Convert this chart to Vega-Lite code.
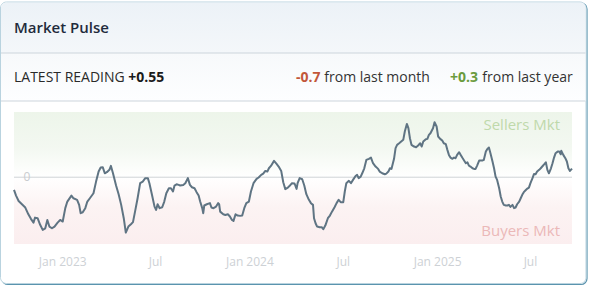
{
  "$schema": "https://vega.github.io/schema/vega-lite/v6.json",
  "width": 558,
  "height": 132,
  "autosize": {"type": "none"},
  "padding": {"left": 14, "top": 112, "right": 19, "bottom": 46},
  "background": "#ffffff",
  "config": {
    "view": {"stroke": null},
    "font": "Open Sans",
    "text": {"font": "Open Sans"}
  },
  "layer": [
    {
      "data": {"values": [{}]},
      "mark": {"type": "rect", "fill": "#ffffff", "stroke": "#5b94ae", "strokeWidth": 1.2, "cornerRadius": 6},
      "encoding": {"x": {"value": -12}, "x2": {"value": 573}, "y": {"value": -109}, "y2": {"value": 172.5}}
    },
    {
      "data": {"values": [{}]},
      "mark": {"type": "rect", "fill": "#ffffff", "stroke": "#b9d3df", "strokeWidth": 1, "cornerRadius": 6},
      "encoding": {"x": {"value": -13.5}, "x2": {"value": 572}, "y": {"value": -110}, "y2": {"value": 171.5}}
    },
    {
      "data": {"values": [{}]},
      "mark": {
        "type": "rect",
        "cornerRadiusTopLeft": 5,
        "cornerRadiusTopRight": 5,
        "fill": {"gradient": "linear", "x1": 0, "y1": 0, "x2": 0, "y2": 1, "stops": [{"offset": 0, "color": "#ecf2f7"}, {"offset": 1, "color": "#f4f7fa"}]}
      },
      "encoding": {"x": {"value": -13}, "x2": {"value": 571.5}, "y": {"value": -109.3}, "y2": {"value": -59}}
    },
    {
      "data": {"values": [{}]},
      "mark": {
        "type": "rect",
        "fill": {"gradient": "linear", "x1": 0, "y1": 0, "x2": 0, "y2": 1, "stops": [{"offset": 0, "color": "#f7f9fb"}, {"offset": 1, "color": "#fdfeff"}]}
      },
      "encoding": {"x": {"value": -13}, "x2": {"value": 571.5}, "y": {"value": -59}, "y2": {"value": -11}}
    },
    {
      "data": {"values": [{}]},
      "mark": {"type": "rule", "stroke": "#cdd5dc", "strokeWidth": 1},
      "encoding": {"x": {"value": -13}, "x2": {"value": 571.5}, "y": {"value": -59}}
    },
    {
      "data": {"values": [{}]},
      "mark": {"type": "rule", "stroke": "#cdd5dc", "strokeWidth": 1},
      "encoding": {"x": {"value": -13}, "x2": {"value": 571.5}, "y": {"value": -11}}
    },
    {
      "data": {"values": [{}]},
      "mark": {"type": "text", "text": "Market Pulse", "align": "left", "baseline": "alphabetic", "fontSize": 15, "fontWeight": 600, "color": "#1f2b3c"},
      "encoding": {"x": {"value": 0}, "y": {"value": -79}}
    },
    {
      "data": {"values": [{}]},
      "mark": {"type": "text", "text": "LATEST READING", "align": "left", "baseline": "alphabetic", "fontSize": 14, "color": "#2a2a2a"},
      "encoding": {"x": {"value": 0}, "y": {"value": -30}}
    },
    {
      "data": {"values": [{}]},
      "mark": {"type": "text", "text": "+0.55", "align": "left", "baseline": "alphabetic", "fontSize": 14, "fontWeight": "bold", "color": "#1a1a1a"},
      "encoding": {"x": {"value": 114.3}, "y": {"value": -30}}
    },
    {
      "data": {"values": [{}]},
      "mark": {"type": "text", "text": "-0.7", "align": "left", "baseline": "alphabetic", "fontSize": 14, "fontWeight": "bold", "color": "#c2573a"},
      "encoding": {"x": {"value": 282}, "y": {"value": -30}}
    },
    {
      "data": {"values": [{}]},
      "mark": {"type": "text", "text": "from last month", "align": "left", "baseline": "alphabetic", "fontSize": 14, "color": "#333333"},
      "encoding": {"x": {"value": 310.3}, "y": {"value": -30}}
    },
    {
      "data": {"values": [{}]},
      "mark": {"type": "text", "text": "+0.3", "align": "left", "baseline": "alphabetic", "fontSize": 14, "fontWeight": "bold", "color": "#6b9b3e"},
      "encoding": {"x": {"value": 436}, "y": {"value": -30}}
    },
    {
      "data": {"values": [{}]},
      "mark": {"type": "text", "text": "from last year", "align": "left", "baseline": "alphabetic", "fontSize": 14, "color": "#333333"},
      "encoding": {"x": {"value": 468.3}, "y": {"value": -30}}
    },
    {
      "data": {"values": [{}]},
      "mark": {
        "type": "rect",
        "fill": {"gradient": "linear", "x1": 0, "y1": 0, "x2": 0, "y2": 1, "stops": [{"offset": 0, "color": "#edf5ea"}, {"offset": 0.55, "color": "#f3f8f1"}, {"offset": 1, "color": "#ffffff"}]}
      },
      "encoding": {
        "x": {"value": 0}, "x2": {"value": 558},
        "y": {"datum": 4.15, "type": "quantitative", "scale": {"domain": [-4.25, 4.15], "nice": false, "zero": false}, "axis": null},
        "y2": {"datum": 0}
      }
    },
    {
      "data": {"values": [{}]},
      "mark": {
        "type": "rect",
        "fill": {"gradient": "linear", "x1": 0, "y1": 0, "x2": 0, "y2": 1, "stops": [{"offset": 0, "color": "#ffffff"}, {"offset": 0.45, "color": "#fcf3f3"}, {"offset": 1, "color": "#fbeeef"}]}
      },
      "encoding": {
        "x": {"value": 0}, "x2": {"value": 558},
        "y": {"datum": 0, "type": "quantitative"},
        "y2": {"datum": -4.25}
      }
    },
    {
      "data": {"values": [{}]},
      "mark": {"type": "rule", "stroke": "#cfd3d6", "strokeWidth": 1},
      "encoding": {"x": {"value": 0}, "x2": {"value": 558}, "y": {"datum": 0, "type": "quantitative"}}
    },
    {
      "data": {"values": [{}]},
      "mark": {"type": "text", "text": "0", "align": "center", "baseline": "middle", "fontSize": 12, "color": "#c9cccf"},
      "encoding": {"x": {"value": 13}, "y": {"datum": 0, "type": "quantitative"}}
    },
    {
      "data": {"values": [{}]},
      "mark": {"type": "text", "text": "Sellers Mkt", "align": "right", "baseline": "middle", "fontSize": 15, "color": "#bfd9ab"},
      "encoding": {"x": {"value": 546}, "y": {"datum": 3.32, "type": "quantitative"}}
    },
    {
      "data": {"values": [{}]},
      "mark": {"type": "text", "text": "Buyers Mkt", "align": "right", "baseline": "middle", "fontSize": 15, "color": "#ebb8b8"},
      "encoding": {"x": {"value": 546}, "y": {"datum": -3.4, "type": "quantitative"}}
    },
    {
      "data": {"values": [
        {"d": "2022-09-29", "v": -0.81}, {"d": "2022-10-03", "v": -1.17}, {"d": "2022-10-08", "v": -1.51}, {"d": "2022-10-14", "v": -1.70},
        {"d": "2022-10-21", "v": -1.93}, {"d": "2022-10-27", "v": -2.36}, {"d": "2022-11-01", "v": -2.65}, {"d": "2022-11-06", "v": -2.89},
        {"d": "2022-11-09", "v": -2.57}, {"d": "2022-11-14", "v": -2.61}, {"d": "2022-11-19", "v": -3.03}, {"d": "2022-11-24", "v": -3.35},
        {"d": "2022-11-29", "v": -3.25}, {"d": "2022-12-03", "v": -2.72}, {"d": "2022-12-07", "v": -3.14}, {"d": "2022-12-12", "v": -3.25},
        {"d": "2022-12-17", "v": -3.14}, {"d": "2022-12-23", "v": -2.89}, {"d": "2022-12-28", "v": -2.72}, {"d": "2023-01-02", "v": -2.82},
        {"d": "2023-01-07", "v": -1.97}, {"d": "2023-01-11", "v": -1.55}, {"d": "2023-01-19", "v": -1.17}, {"d": "2023-01-23", "v": -1.34},
        {"d": "2023-01-30", "v": -1.44}, {"d": "2023-02-03", "v": -1.76}, {"d": "2023-02-06", "v": -2.29}, {"d": "2023-02-10", "v": -2.23},
        {"d": "2023-02-15", "v": -1.97}, {"d": "2023-02-19", "v": -1.55}, {"d": "2023-02-25", "v": -1.29}, {"d": "2023-03-03", "v": -1.02},
        {"d": "2023-03-08", "v": -0.28}, {"d": "2023-03-13", "v": 0.36}, {"d": "2023-03-17", "v": 0.62}, {"d": "2023-03-21", "v": 0.64},
        {"d": "2023-03-25", "v": 0.25}, {"d": "2023-03-29", "v": 0.32}, {"d": "2023-04-03", "v": 0.47}, {"d": "2023-04-06", "v": 0.72},
        {"d": "2023-04-10", "v": 0.25}, {"d": "2023-04-16", "v": -0.53}, {"d": "2023-04-21", "v": -1.08}, {"d": "2023-04-26", "v": -1.76},
        {"d": "2023-05-01", "v": -2.61}, {"d": "2023-05-05", "v": -3.52}, {"d": "2023-05-10", "v": -3.14}, {"d": "2023-05-15", "v": -2.99},
        {"d": "2023-05-19", "v": -2.86}, {"d": "2023-05-23", "v": -2.19}, {"d": "2023-05-28", "v": -1.34}, {"d": "2023-06-02", "v": -0.38},
        {"d": "2023-06-07", "v": -0.28}, {"d": "2023-06-12", "v": -0.06}, {"d": "2023-06-17", "v": -0.06}, {"d": "2023-06-20", "v": -0.38},
        {"d": "2023-06-25", "v": -1.12}, {"d": "2023-06-30", "v": -1.87}, {"d": "2023-07-03", "v": -2.08}, {"d": "2023-07-06", "v": -1.72},
        {"d": "2023-07-10", "v": -1.97}, {"d": "2023-07-15", "v": -1.91}, {"d": "2023-07-19", "v": -1.55}, {"d": "2023-07-23", "v": -1.02},
        {"d": "2023-07-28", "v": -0.70}, {"d": "2023-08-01", "v": -0.70}, {"d": "2023-08-05", "v": -0.91}, {"d": "2023-08-08", "v": -0.53},
        {"d": "2023-08-12", "v": -0.45}, {"d": "2023-08-16", "v": -0.49}, {"d": "2023-08-19", "v": -0.53}, {"d": "2023-08-25", "v": -0.49},
        {"d": "2023-08-29", "v": -0.38}, {"d": "2023-09-03", "v": -0.06}, {"d": "2023-09-07", "v": -0.49}, {"d": "2023-09-11", "v": -0.64},
        {"d": "2023-09-16", "v": -0.70}, {"d": "2023-09-20", "v": -0.95}, {"d": "2023-09-24", "v": -1.17}, {"d": "2023-09-27", "v": -1.55},
        {"d": "2023-10-01", "v": -1.97}, {"d": "2023-10-03", "v": -2.29}, {"d": "2023-10-05", "v": -1.80}, {"d": "2023-10-10", "v": -1.72},
        {"d": "2023-10-16", "v": -1.65}, {"d": "2023-10-19", "v": -1.93}, {"d": "2023-10-23", "v": -1.97}, {"d": "2023-10-28", "v": -1.87},
        {"d": "2023-11-01", "v": -1.65}, {"d": "2023-11-03", "v": -1.72}, {"d": "2023-11-05", "v": -2.19}, {"d": "2023-11-11", "v": -2.36},
        {"d": "2023-11-15", "v": -2.40}, {"d": "2023-11-20", "v": -2.36}, {"d": "2023-11-24", "v": -2.50}, {"d": "2023-11-28", "v": -2.72},
        {"d": "2023-12-01", "v": -2.78}, {"d": "2023-12-05", "v": -2.36}, {"d": "2023-12-09", "v": -2.44}, {"d": "2023-12-14", "v": -2.46},
        {"d": "2023-12-18", "v": -2.44}, {"d": "2023-12-22", "v": -1.97}, {"d": "2023-12-26", "v": -1.65}, {"d": "2023-12-31", "v": -1.55},
        {"d": "2024-01-04", "v": -0.91}, {"d": "2024-01-09", "v": -0.38}, {"d": "2024-01-15", "v": -0.11}, {"d": "2024-01-19", "v": -0.02},
        {"d": "2024-01-24", "v": 0.15}, {"d": "2024-01-28", "v": 0.23}, {"d": "2024-02-01", "v": 0.40}, {"d": "2024-02-05", "v": 0.36},
        {"d": "2024-02-08", "v": 0.57}, {"d": "2024-02-12", "v": 0.72}, {"d": "2024-02-18", "v": 1.04}, {"d": "2024-02-23", "v": 0.85},
        {"d": "2024-02-27", "v": 0.68}, {"d": "2024-03-03", "v": 0.40}, {"d": "2024-03-07", "v": -0.32}, {"d": "2024-03-11", "v": -0.76},
        {"d": "2024-03-16", "v": -0.66}, {"d": "2024-03-20", "v": -0.53}, {"d": "2024-03-24", "v": -0.38}, {"d": "2024-03-29", "v": -0.40},
        {"d": "2024-04-02", "v": -0.74}, {"d": "2024-04-04", "v": -0.38}, {"d": "2024-04-08", "v": -0.06}, {"d": "2024-04-13", "v": -0.13},
        {"d": "2024-04-17", "v": -0.53}, {"d": "2024-04-21", "v": -1.08}, {"d": "2024-04-26", "v": -1.44}, {"d": "2024-04-30", "v": -1.65},
        {"d": "2024-05-04", "v": -1.76}, {"d": "2024-05-06", "v": -2.61}, {"d": "2024-05-09", "v": -2.93}, {"d": "2024-05-12", "v": -3.14},
        {"d": "2024-05-17", "v": -3.18}, {"d": "2024-05-21", "v": -3.18}, {"d": "2024-05-24", "v": -3.31}, {"d": "2024-05-28", "v": -3.08},
        {"d": "2024-06-02", "v": -2.61}, {"d": "2024-06-06", "v": -2.44}, {"d": "2024-06-10", "v": -2.19}, {"d": "2024-06-15", "v": -1.91},
        {"d": "2024-06-19", "v": -1.65}, {"d": "2024-06-23", "v": -1.44}, {"d": "2024-06-27", "v": -1.59}, {"d": "2024-07-02", "v": -1.59},
        {"d": "2024-07-05", "v": -0.91}, {"d": "2024-07-08", "v": -0.38}, {"d": "2024-07-13", "v": -0.23}, {"d": "2024-07-17", "v": -0.38},
        {"d": "2024-07-21", "v": -0.17}, {"d": "2024-07-26", "v": 0.08}, {"d": "2024-07-29", "v": 0.15}, {"d": "2024-08-01", "v": -0.06},
        {"d": "2024-08-05", "v": 0.04}, {"d": "2024-08-08", "v": 0.25}, {"d": "2024-08-12", "v": 0.57}, {"d": "2024-08-16", "v": 1.10},
        {"d": "2024-08-21", "v": 1.17}, {"d": "2024-08-25", "v": 1.25}, {"d": "2024-08-29", "v": 0.89}, {"d": "2024-09-03", "v": 0.68},
        {"d": "2024-09-08", "v": 0.53}, {"d": "2024-09-11", "v": 0.36}, {"d": "2024-09-16", "v": 0.25}, {"d": "2024-09-21", "v": 0.19},
        {"d": "2024-09-24", "v": 0.23}, {"d": "2024-09-28", "v": 0.36}, {"d": "2024-10-01", "v": 0.57}, {"d": "2024-10-04", "v": 0.53},
        {"d": "2024-10-09", "v": 1.17}, {"d": "2024-10-12", "v": 1.85}, {"d": "2024-10-15", "v": 2.06}, {"d": "2024-10-19", "v": 2.16},
        {"d": "2024-10-23", "v": 2.27}, {"d": "2024-10-27", "v": 2.38}, {"d": "2024-10-30", "v": 2.91}, {"d": "2024-11-03", "v": 3.39},
        {"d": "2024-11-06", "v": 3.12}, {"d": "2024-11-09", "v": 2.48}, {"d": "2024-11-12", "v": 2.06}, {"d": "2024-11-17", "v": 1.95},
        {"d": "2024-11-21", "v": 1.91}, {"d": "2024-11-25", "v": 2.02}, {"d": "2024-11-29", "v": 2.16}, {"d": "2024-12-02", "v": 1.95},
        {"d": "2024-12-05", "v": 2.27}, {"d": "2024-12-10", "v": 2.42}, {"d": "2024-12-13", "v": 2.44}, {"d": "2024-12-16", "v": 2.69},
        {"d": "2024-12-19", "v": 2.80}, {"d": "2024-12-24", "v": 3.12}, {"d": "2024-12-27", "v": 3.50}, {"d": "2024-12-31", "v": 3.23},
        {"d": "2025-01-03", "v": 2.59}, {"d": "2025-01-07", "v": 2.44}, {"d": "2025-01-11", "v": 2.33}, {"d": "2025-01-14", "v": 2.16},
        {"d": "2025-01-18", "v": 2.10}, {"d": "2025-01-21", "v": 1.74}, {"d": "2025-01-24", "v": 1.42}, {"d": "2025-01-27", "v": 1.25},
        {"d": "2025-01-31", "v": 1.17}, {"d": "2025-02-03", "v": 1.25}, {"d": "2025-02-06", "v": 1.21}, {"d": "2025-02-09", "v": 1.42},
        {"d": "2025-02-13", "v": 1.59}, {"d": "2025-02-16", "v": 1.42}, {"d": "2025-02-19", "v": 1.25}, {"d": "2025-02-22", "v": 1.10},
        {"d": "2025-02-26", "v": 0.89}, {"d": "2025-03-01", "v": 0.95}, {"d": "2025-03-04", "v": 0.74}, {"d": "2025-03-07", "v": 0.68},
        {"d": "2025-03-11", "v": 0.57}, {"d": "2025-03-14", "v": 0.53}, {"d": "2025-03-17", "v": 0.53}, {"d": "2025-03-20", "v": 0.74},
        {"d": "2025-03-24", "v": 1.06}, {"d": "2025-03-27", "v": 1.06}, {"d": "2025-03-30", "v": 1.06}, {"d": "2025-04-02", "v": 1.10},
        {"d": "2025-04-06", "v": 1.63}, {"d": "2025-04-09", "v": 1.80}, {"d": "2025-04-12", "v": 1.89}, {"d": "2025-04-15", "v": 1.53},
        {"d": "2025-04-19", "v": 1.00}, {"d": "2025-04-22", "v": 0.57}, {"d": "2025-04-25", "v": 0.04}, {"d": "2025-04-28", "v": -0.17},
        {"d": "2025-05-02", "v": -0.70}, {"d": "2025-05-05", "v": -1.23}, {"d": "2025-05-08", "v": -1.55}, {"d": "2025-05-11", "v": -1.76},
        {"d": "2025-05-15", "v": -1.80}, {"d": "2025-05-18", "v": -1.80}, {"d": "2025-05-21", "v": -1.76}, {"d": "2025-05-24", "v": -1.89},
        {"d": "2025-05-28", "v": -1.76}, {"d": "2025-05-31", "v": -1.97}, {"d": "2025-06-03", "v": -1.93}, {"d": "2025-06-06", "v": -1.72},
        {"d": "2025-06-10", "v": -1.55}, {"d": "2025-06-13", "v": -1.34}, {"d": "2025-06-16", "v": -1.12}, {"d": "2025-06-19", "v": -0.95},
        {"d": "2025-06-23", "v": -0.81}, {"d": "2025-06-26", "v": -0.72}, {"d": "2025-06-29", "v": -0.66}, {"d": "2025-07-02", "v": -0.38},
        {"d": "2025-07-06", "v": -0.06}, {"d": "2025-07-09", "v": 0.21}, {"d": "2025-07-12", "v": 0.19}, {"d": "2025-07-15", "v": 0.36},
        {"d": "2025-07-19", "v": 0.47}, {"d": "2025-07-22", "v": 0.57}, {"d": "2025-07-25", "v": 0.68}, {"d": "2025-07-29", "v": 0.83},
        {"d": "2025-08-01", "v": 0.95}, {"d": "2025-08-04", "v": 0.47}, {"d": "2025-08-07", "v": 0.25}, {"d": "2025-08-11", "v": 0.57},
        {"d": "2025-08-14", "v": 0.89}, {"d": "2025-08-17", "v": 1.25}, {"d": "2025-08-20", "v": 1.53}, {"d": "2025-08-24", "v": 1.63},
        {"d": "2025-08-27", "v": 1.63}, {"d": "2025-08-30", "v": 1.46}, {"d": "2025-08-31", "v": 1.68}, {"d": "2025-09-04", "v": 1.42},
        {"d": "2025-09-08", "v": 1.21}, {"d": "2025-09-11", "v": 1.00}, {"d": "2025-09-14", "v": 0.57}, {"d": "2025-09-17", "v": 0.40},
        {"d": "2025-09-21", "v": 0.55}
      ]},
      "mark": {"type": "line", "stroke": "#5f7483", "strokeWidth": 2, "strokeJoin": "round"},
      "encoding": {
        "x": {
          "field": "d", "type": "temporal",
          "scale": {"type": "utc", "nice": false},
          "axis": {
            "title": null, "domain": false, "ticks": false, "grid": false, "zindex": 1,
            "tickCount": {"interval": "month", "step": 6},
            "labelExpr": "utcFormat(datum.value, '%m') == '01' ? utcFormat(datum.value, '%b %Y') : utcFormat(datum.value, '%b')",
            "labelColor": "#cdd1d5", "labelFontSize": 12, "labelFont": "Open Sans", "labelPadding": 12, "labelFlush": false
          }
        },
        "y": {"field": "v", "type": "quantitative"}
      }
    }
  ]
}
